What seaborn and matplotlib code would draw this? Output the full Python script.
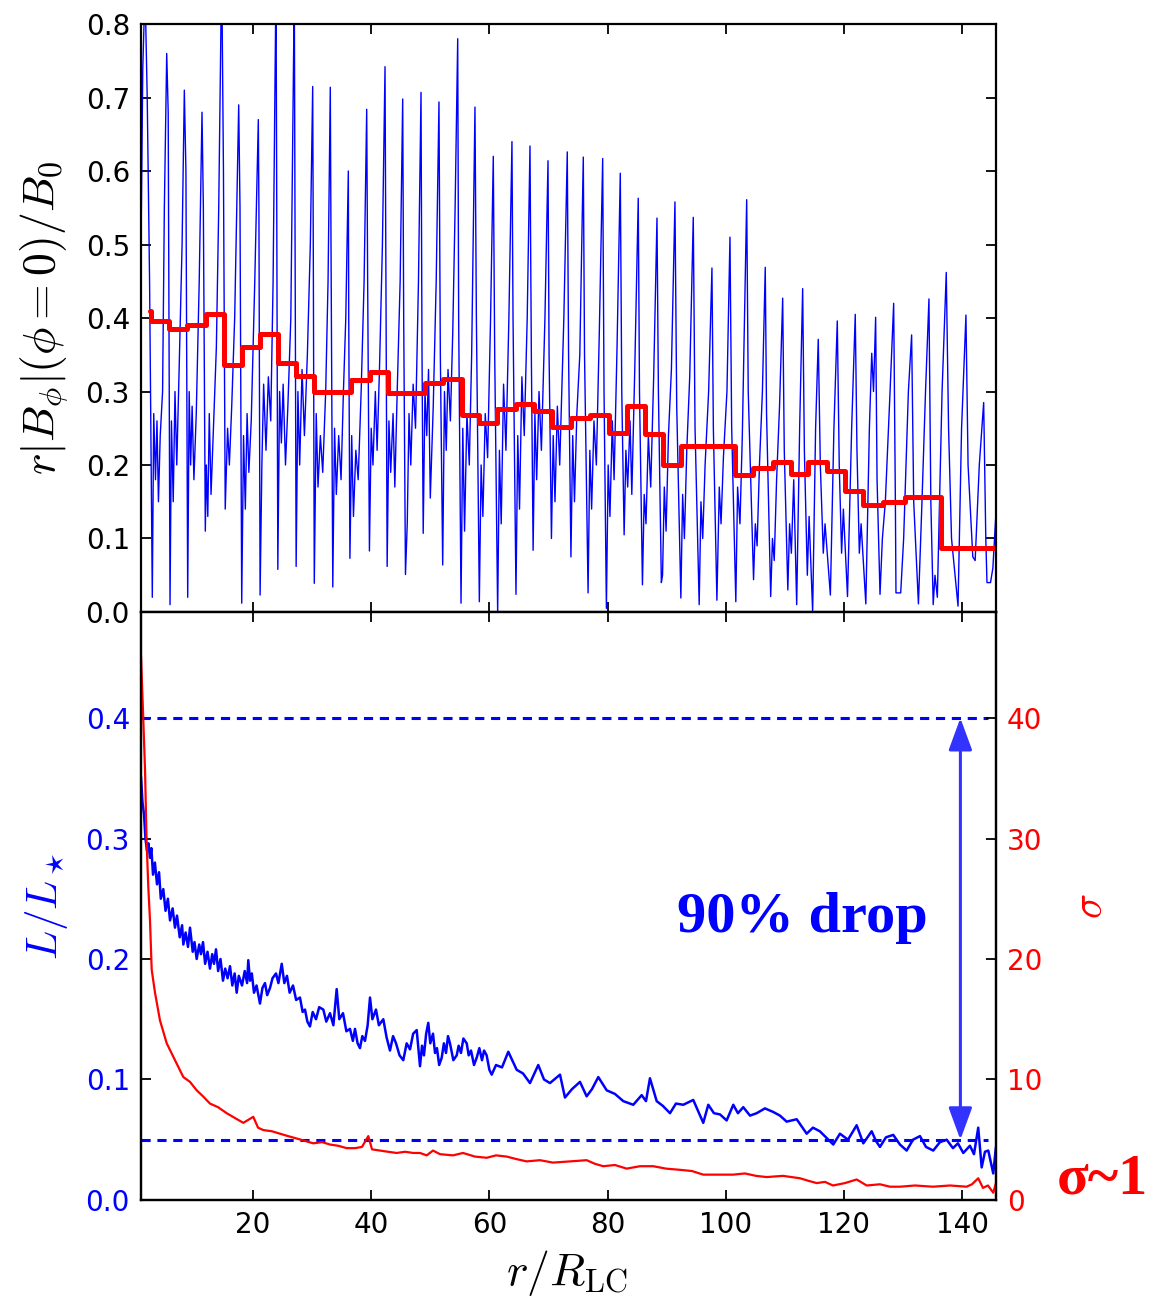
import numpy as np
import pandas as pd
import matplotlib
matplotlib.use("Agg")
import matplotlib.pyplot as plt
import seaborn as sns

# ---------------- data ----------------
# top panel, thin blue line: (r/R_LC, r|B_phi|(phi=0)/B0)
bphi_points = [
    (1.05,0.50),(1.35,0.74),(1.73,0.85),(2.1,0.70),(2.5,0.45),(2.96,0.02),(3.2,0.27),(3.5,0.18),(3.75,0.26),(4.0,0.15),
    (4.3,0.24),(4.7,0.30),(5.0,0.55),(5.4,0.76),(5.65,0.68),(5.96,0.01),(6.2,0.26),(6.5,0.15),(6.8,0.30),(7.1,0.20),
    (7.5,0.33),(8.0,0.50),(8.38,0.71),(8.65,0.60),(8.95,0.02),(9.2,0.30),(9.45,0.20),(9.7,0.28),(10.0,0.18),(10.4,0.27),
    (10.9,0.45),(11.37,0.68),(11.6,0.55),(11.93,0.11),(12.1,0.20),(12.35,0.13),(12.6,0.27),(12.9,0.16),(13.3,0.25),(13.8,0.36),
    (14.2,0.55),(14.7,0.88),(15.0,0.60),(15.3,0.14),(15.7,0.25),(16.0,0.20),(16.4,0.28),(16.9,0.40),(17.58,0.69),(17.8,0.55),
    (18.09,0.012),(18.4,0.24),(18.7,0.14),(19.0,0.27),(19.3,0.19),(19.7,0.26),(20.3,0.45),(20.9,0.67),(21.0,0.55),(21.2,0.023),
    (21.5,0.20),(21.8,0.31),(22.2,0.22),(22.6,0.32),(23.0,0.26),(23.4,0.45),(23.89,0.86),(24.0,0.60),(24.2,0.058),(24.5,0.30),
    (24.8,0.23),(25.1,0.31),(25.5,0.20),(25.9,0.28),(26.4,0.40),(26.99,0.85),(27.1,0.55),(27.3,0.062),(27.6,0.30),(27.9,0.20),
    (28.3,0.33),(28.7,0.24),(29.2,0.35),(29.7,0.50),(30.10,0.715),(30.2,0.50),(30.37,0.039),(30.7,0.27),(31.0,0.17),(31.4,0.24),
    (31.8,0.19),(32.3,0.30),(32.7,0.45),(33.08,0.714),(33.2,0.50),(33.5,0.034),(33.8,0.25),(34.1,0.16),(34.5,0.24),(34.9,0.18),
    (35.3,0.30),(35.7,0.40),(36.13,0.60),(36.2,0.40),(36.4,0.073),(36.7,0.24),(37.0,0.13),(37.4,0.22),(37.8,0.18),(38.3,0.30),
    (38.8,0.45),(39.24,0.684),(39.4,0.45),(39.7,0.083),(40.0,0.25),(40.3,0.20),(40.7,0.30),(41.0,0.22),(41.4,0.33),(41.9,0.50),
    (42.34,0.742),(42.5,0.45),(42.7,0.062),(43.0,0.26),(43.3,0.19),(43.7,0.27),(44.0,0.17),(44.4,0.30),(44.9,0.45),(45.33,0.698),
    (45.5,0.40),(45.8,0.051),(46.1,0.12),(46.4,0.27),(46.7,0.20),(47.1,0.31),(47.5,0.25),(48.0,0.45),(48.43,0.707),(48.6,0.35),
    (48.8,0.107),(49.1,0.30),(49.4,0.24),(49.7,0.33),(50.0,0.155),(50.5,0.28),(51.0,0.45),(51.47,0.694),(51.7,0.35),(52.1,0.064),
    (52.4,0.30),(52.7,0.22),(53.0,0.33),(53.4,0.26),(53.8,0.38),(54.2,0.55),(54.64,0.78),(54.8,0.40),(55.2,0.012),(55.5,0.25),
    (55.8,0.11),(56.2,0.27),(56.6,0.20),(57.0,0.35),(57.56,0.687),(57.8,0.40),(58.3,0.014),(58.6,0.20),(58.9,0.13),(59.3,0.27),
    (59.7,0.21),(60.2,0.40),(60.66,0.62),(60.9,0.35),(61.4,0.0),(61.7,0.22),(62.0,0.12),(62.4,0.31),(62.8,0.22),(63.3,0.40),
    (63.82,0.64),(64.0,0.40),(64.5,0.024),(64.8,0.24),(65.1,0.14),(65.5,0.32),(65.9,0.24),(66.4,0.40),(66.87,0.634),(67.1,0.35),
    (67.4,0.084),(67.7,0.27),(68.0,0.18),(68.4,0.30),(68.8,0.22),(69.4,0.40),(69.92,0.614),(70.1,0.35),(70.5,0.10),(70.8,0.24),
    (71.1,0.15),(71.5,0.28),(71.9,0.20),(72.6,0.40),(73.18,0.626),(73.4,0.35),(73.8,0.075),(74.1,0.24),(74.4,0.15),(74.8,0.27),
    (75.3,0.35),(75.89,0.619),(76.1,0.35),(76.7,0.026),(77.0,0.22),(77.3,0.14),(77.7,0.26),(78.1,0.20),(78.6,0.38),(79.17,0.617),
    (79.4,0.30),(79.8,0.005),(80.1,0.20),(80.4,0.13),(80.8,0.26),(81.1,0.18),(81.6,0.36),(82.15,0.597),(82.4,0.30),(82.8,0.105),
    (83.1,0.22),(83.4,0.17),(83.8,0.26),(84.1,0.16),(84.6,0.33),(85.19,0.563),(85.4,0.30),(85.9,0.037),(86.2,0.16),(86.5,0.12),
    (86.9,0.24),(87.3,0.17),(87.8,0.32),(88.36,0.536),(88.6,0.30),(89.1,0.04),(89.3,0.05),(89.6,0.17),(89.9,0.11),(90.3,0.24),
    (90.8,0.33),(91.40,0.558),(91.7,0.28),(92.4,0.019),(92.7,0.16),(93.0,0.10),(93.4,0.22),(93.9,0.32),(94.50,0.537),(94.8,0.25),
    (95.5,0.010),(95.8,0.15),(96.1,0.10),(96.5,0.20),(97.1,0.30),(97.66,0.468),(97.9,0.25),(98.5,0.016),(98.9,0.17),(99.2,0.12),
    (99.6,0.21),(100.2,0.30),(100.71,0.51),(101.0,0.25),(101.7,0.014),(102.0,0.17),(102.4,0.12),(102.8,0.24),(103.54,0.561),(103.8,0.30),
    (104.7,0.044),(105.0,0.12),(105.3,0.09),(105.7,0.20),(106.2,0.30),(106.68,0.469),(106.9,0.27),(107.6,0.021),(107.9,0.10),(108.2,0.07),
    (108.6,0.18),(109.1,0.28),(109.63,0.427),(109.9,0.22),(110.5,0.03),(110.8,0.12),(111.1,0.08),(111.5,0.18),(112.0,0.01),(112.5,0.25),
    (113.01,0.44),(113.3,0.22),(113.8,0.05),(114.1,0.13),(114.7,0.0),(115.2,0.25),(115.65,0.371),(116.0,0.20),(116.5,0.08),(116.8,0.12),
    (117.7,0.023),(118.3,0.25),(118.87,0.396),(119.2,0.20),(119.6,0.08),(119.9,0.14),(120.6,0.021),(121.3,0.25),(121.91,0.405),(122.2,0.22),
    (122.6,0.08),(122.9,0.12),(123.7,0.011),(124.3,0.25),(124.7,0.352),(125.0,0.30),(125.36,0.401),(125.6,0.18),(126.1,0.024),(126.5,0.10),
    (127.0,0.15),(127.8,0.30),(128.41,0.42),(128.7,0.15),(128.8,0.026),(129.6,0.026),(130.1,0.10),(130.9,0.30),(131.45,0.377),(131.8,0.15),
    (132.6,0.011),(133.2,0.15),(133.8,0.30),(134.38,0.426),(134.7,0.15),(135.1,0.01),(135.4,0.05),(135.8,0.02),(136.6,0.30),(137.31,0.462),
    (137.7,0.25),(138.2,0.10),(139.3,0.008),(139.9,0.25),(140.64,0.404),(141.0,0.20),(141.8,0.075),(142.2,0.07),(142.9,0.20),(143.64,0.285),
    (144.0,0.10),(144.2,0.04),(144.8,0.04),(145.2,0.06),(145.72,0.135),
]

# top panel, red binned average (step edges and levels)
step_edges = [2.6, 2.8, 5.84, 8.88, 12.05, 15.09, 18.09, 21.18, 24.18, 27.28, 30.37, 36.53, 39.80,
              42.89, 49.10, 52.10, 55.31, 58.29, 61.34, 64.50, 67.55, 70.54, 73.76, 77.02, 80.24,
              83.23, 86.33, 89.32, 92.37, 101.56, 104.65, 107.94, 110.98, 113.96, 117.17, 120.17,
              123.16, 126.55, 130.32, 136.36, 145.72]
step_levels = [0.41, 0.396, 0.385, 0.390, 0.405, 0.336, 0.361, 0.378, 0.339, 0.321, 0.300, 0.316,
               0.326, 0.298, 0.311, 0.317, 0.268, 0.257, 0.276, 0.283, 0.273, 0.252, 0.264, 0.268,
               0.244, 0.280, 0.242, 0.200, 0.226, 0.187, 0.196, 0.204, 0.188, 0.204, 0.192, 0.164,
               0.146, 0.149, 0.157, 0.087]

# bottom panel: luminosity L/L* (blue): (r/R_LC, L/L*)
lum_points = [
    (1.05,0.351),(1.3,0.33),(1.56,0.32),(1.8,0.30),(2.06,0.29),(2.3,0.296),(2.57,0.284),(2.8,0.292),(3.08,0.27),(3.4,0.28),
    (3.76,0.262),(4.1,0.272),(4.4,0.25),(4.82,0.258),(5.2,0.24),(5.6,0.25),(5.96,0.232),(6.4,0.242),(6.8,0.226),(7.14,0.236),
    (7.6,0.218),(8.0,0.228),(8.21,0.212),(8.6,0.222),(9.0,0.21),(9.34,0.226),(9.8,0.206),(10.1,0.214),(10.47,0.2),(10.9,0.212),
    (11.2,0.204),(11.54,0.214),(11.9,0.196),(12.3,0.206),(12.72,0.192),(13.1,0.204),(13.4,0.196),(13.74,0.208),(14.1,0.19),(14.5,0.2),
    (14.92,0.182),(15.3,0.192),(15.7,0.184),(16.11,0.194),(16.5,0.178),(16.9,0.188),(17.24,0.172),(17.6,0.186),(18.14,0.178),(18.6,0.19),
    (19.0,0.18),(19.2,0.199),(19.5,0.182),(19.8,0.188),(20.17,0.172),(20.6,0.178),(21.18,0.163),(21.6,0.176),(22.03,0.18),(22.4,0.17),
    (22.88,0.176),(23.3,0.184),(23.89,0.188),(24.3,0.18),(24.86,0.196),(25.3,0.18),(25.75,0.186),(26.2,0.172),(26.77,0.178),(27.3,0.166),
    (27.95,0.168),(28.4,0.156),(28.8,0.158),(29.2,0.148),(29.64,0.144),(30.1,0.156),(30.66,0.15),(31.2,0.16),(31.9,0.158),(32.4,0.148),
    (33.03,0.155),(33.6,0.145),(34.16,0.175),(34.6,0.15),(35.23,0.155),(35.8,0.14),(36.41,0.142),(36.9,0.132),(37.26,0.142),(37.7,0.13),
    (38.10,0.126),(38.5,0.136),(38.95,0.132),(39.4,0.145),(39.80,0.168),(40.2,0.15),(40.81,0.158),(41.3,0.145),(42.05,0.15),(42.6,0.135),
    (43.18,0.124),(43.7,0.136),(44.20,0.13),(44.8,0.12),(45.43,0.116),(46.0,0.13),(46.57,0.125),(47.1,0.138),(47.70,0.141),(48.0,0.125),
    (48.26,0.111),(48.6,0.128),(48.93,0.12),(49.3,0.138),(49.66,0.147),(50.0,0.13),(50.46,0.138),(50.8,0.122),(51.13,0.126),(51.5,0.112),
    (51.93,0.118),(52.3,0.13),(52.66,0.122),(53.0,0.136),(53.33,0.13),(53.9,0.116),(54.47,0.12),(54.8,0.128),(55.19,0.122),(55.6,0.134),
    (56.16,0.13),(56.5,0.12),(56.89,0.124),(57.4,0.112),(57.85,0.118),(58.3,0.126),(58.75,0.116),(59.1,0.124),(59.54,0.12),(60.0,0.108),
    (60.39,0.104),(61.12,0.112),(62.13,0.11),(63.20,0.123),(64.62,0.108),(65.69,0.105),(66.87,0.097),(68.27,0.112),(69.24,0.1),(70.25,0.097),
    (71.95,0.104),(72.79,0.085),(73.98,0.092),(75.33,0.098),(76.46,0.086),(77.36,0.092),(78.43,0.102),(79.85,0.091),(81.25,0.088),(82.66,0.082),
    (84.35,0.079),(85.77,0.087),(86.50,0.082),(87.17,0.101),(88.31,0.082),(89.37,0.078),(90.56,0.072),(91.57,0.08),(92.81,0.079),(94.50,0.083),
    (95.30,0.074),(96.19,0.064),(97.04,0.079),(98.00,0.072),(99.02,0.071),(100.15,0.066),(101.27,0.079),(102.06,0.072),(102.96,0.077),(104.10,0.07),
    (105.23,0.072),(106.63,0.076),(108.04,0.073),(109.17,0.07),(110.30,0.065),(112.00,0.067),(113.69,0.055),(114.75,0.06),(115.92,0.057),(116.96,0.052),
    (118.19,0.046),(119.32,0.055),(120.68,0.05),(122.15,0.062),(123.27,0.047),(124.69,0.057),(125.41,0.049),(126.09,0.044),(127.11,0.052),(128.34,0.054),
    (129.47,0.046),(130.61,0.041),(131.68,0.05),(132.86,0.053),(133.88,0.044),(135.11,0.041),(136.24,0.048),(137.38,0.05),(138.44,0.043),(139.29,0.047),
    (140.19,0.039),(141.32,0.045),(142.00,0.038),(142.72,0.06),(143.30,0.027),(143.86,0.04),(144.42,0.041),(145.26,0.022),(145.72,0.044),
]

# bottom panel: magnetization sigma (red, right axis)
sig_r = [1.05, 1.39, 1.73, 1.98, 2.28, 2.57, 2.86, 3.42, 4.26, 5.40, 6.80, 8.21, 9.34, 10.47, 11.54,
         12.72, 14.08, 15.55, 16.95, 18.36, 20.05, 20.85, 21.74, 23.21, 24.57, 25.92, 27.39, 28.80,
         30.20, 31.68, 33.03, 34.38, 35.85, 37.26, 38.44, 39.51, 40.14, 41.49, 42.84, 44.31, 45.72,
         47.12, 48.26, 49.39, 50.46, 51.64, 53.84, 55.53, 57.56, 59.54, 61.12, 62.93, 64.50, 66.31,
         68.56, 70.76, 73.64, 76.46, 77.86, 79.27, 81.25, 83.23, 85.48, 87.73, 89.88, 92.25, 94.28,
         96.19, 99.02, 101.22, 103.25, 105.11, 106.92, 109.68, 112.56, 113.91, 115.38, 116.79, 118.14,
         120.17, 122.15, 123.84, 126.09, 127.78, 129.47, 132.01, 135.06, 137.94, 140.76, 141.66,
         142.72, 143.52, 144.37, 145.26, 145.72]
sig_val = [45.1, 40.5, 35.7, 30.0, 26.0, 23.2, 19.1, 17.2, 14.9, 13.0, 11.6, 10.2, 9.8, 9.1, 8.6,
           8.0, 7.7, 7.2, 6.8, 6.4, 6.9, 6.0, 5.8, 5.7, 5.5, 5.3, 5.1, 4.9, 4.7, 4.8, 4.6, 4.5, 4.3,
           4.3, 4.4, 5.3, 4.2, 4.1, 4.0, 3.9, 4.0, 3.9, 3.9, 3.7, 4.1, 3.8, 3.7, 3.9, 3.6, 3.5, 3.7,
           3.6, 3.4, 3.2, 3.3, 3.1, 3.2, 3.3, 3.0, 2.8, 2.9, 2.6, 2.8, 2.8, 2.6, 2.5, 2.4, 2.1, 2.1,
           2.1, 2.2, 2.0, 1.9, 2.0, 1.8, 1.6, 1.4, 1.5, 1.2, 1.4, 1.7, 1.2, 1.3, 1.1, 1.1, 1.2, 1.1,
           1.2, 1.1, 1.3, 1.8, 1.0, 1.2, 0.6, 1.4]

ref_levels = [0.40, 0.05]          # dashed guide lines (L/L*)
ref_span = [1.05, 144.4]           # r-range of dashed lines
arrow_r = 139.7                    # r position of the "90% drop" arrow

x_ticks = [20, 40, 60, 80, 100, 120, 140]
top_yticks = [0.0, 0.1, 0.2, 0.3, 0.4, 0.5, 0.6, 0.7, 0.8]
lum_yticks = [0.0, 0.1, 0.2, 0.3, 0.4]
sig_yticks = [0, 10, 20, 30, 40]

# ---------------- style ----------------
sns.set_style("ticks")
plt.rcParams["font.family"] = ["DejaVu Sans"]
plt.rcParams["mathtext.fontset"] = "cm"
plt.rcParams.update({
    "axes.linewidth": 1.6, "axes.edgecolor": "black", "text.color": "black",
    "axes.labelcolor": "black", "xtick.color": "black", "ytick.color": "black",
})

TICK_FS = 20
TICK_KW = dict(direction="in", length=7.5, width=1.3, labelsize=TICK_FS, pad=8)
fig = plt.figure(figsize=(11.53, 13.06), dpi=100)
ax1 = fig.add_axes([0.1223, 0.5314, 0.7415, 0.4502])
ax2 = fig.add_axes([0.1223, 0.0812, 0.7415, 0.4502])
ax3 = ax2.twinx()

xlim = (1.05, 145.72)

# ---- top panel ----
bphi_df = pd.DataFrame(bphi_points, columns=["r", "b"])
sns.lineplot(data=bphi_df, x="r", y="b", ax=ax1, color="blue", linewidth=1.0,
             sort=False, estimator=None)
step_df = pd.DataFrame({"r": step_edges, "b": step_levels + [step_levels[-1]]})
sns.lineplot(data=step_df, x="r", y="b", ax=ax1, color="red", linewidth=3.6,
             sort=False, estimator=None, drawstyle="steps-post")
ax1.set_xlim(*xlim)
ax1.set_ylim(0, 0.8)
ax1.set_yticks(top_yticks)
ax1.set_yticklabels([f"{v:.1f}" for v in top_yticks])
ax1.set_xticks(x_ticks)
ax1.set_xticklabels([])
ax1.tick_params(top=True, right=True, **TICK_KW)
ax1.set_xlabel("")
ax1.set_ylabel(r"$r|B_\phi|(\phi=0)/B_0$", fontsize=33)
ax1.yaxis.set_label_coords(-0.083, 0.5)

# ---- bottom panel ----
lum_df = pd.DataFrame(lum_points, columns=["r", "L"])
sns.lineplot(data=lum_df, x="r", y="L", ax=ax2, color="blue", linewidth=1.8,
             sort=False, estimator=None)
for lev in ref_levels:
    ax2.hlines(lev, ref_span[0], ref_span[1], colors="blue", linestyles=(0, (3, 2.2)), linewidth=2.2)
ax2.annotate("", xy=(arrow_r, ref_levels[0]), xytext=(arrow_r, ref_levels[1]),
             arrowprops=dict(arrowstyle="<|-|>,head_length=0.9,head_width=0.33",
                             color="#3333ff", lw=2.2, shrinkA=0, shrinkB=0, mutation_scale=22))
ax2.text(91.7, 0.222, "90% drop", color="blue", fontsize=42, fontweight="bold",
         family=["Liberation Serif", "DejaVu Serif"], ha="left", va="baseline")

sig_df = pd.DataFrame({"r": sig_r, "s": sig_val})
sns.lineplot(data=sig_df, x="r", y="s", ax=ax3, color="red", linewidth=1.6,
             sort=False, estimator=None)

ax2.set_xlim(*xlim)
ax2.set_ylim(0, 0.488)
ax3.set_ylim(0, 48.8)
ax2.set_xticks(x_ticks)
ax2.set_xticklabels([str(v) for v in x_ticks])
ax2.set_yticks(lum_yticks)
ax2.set_yticklabels([f"{v:.1f}" for v in lum_yticks])
ax3.set_yticks(sig_yticks)
ax3.set_yticklabels([str(v) for v in sig_yticks])
ax2.tick_params(top=True, right=False, **TICK_KW)
ax2.tick_params(axis="y", labelcolor="blue")
ax3.tick_params(labelcolor="red", **TICK_KW)
ax2.set_xlabel(r"$r/R_{\rm LC}$", fontsize=33)
ax2.xaxis.set_label_coords(0.498, -0.082)
ax2.set_ylabel(r"$L/L_\star$", fontsize=31, color="blue")
ax2.yaxis.set_label_coords(-0.083, 0.5)
ax3.set_ylabel(r"$\sigma$", fontsize=30, color="red")
ax3.yaxis.set_label_coords(1.085, 0.5)

fig.text(0.9167, 0.0865, "σ~1", color="red", fontsize=42, fontweight="bold",
         family=["Liberation Serif", "DejaVu Serif"], ha="left", va="baseline")

fig.savefig("out.png", dpi=100)
